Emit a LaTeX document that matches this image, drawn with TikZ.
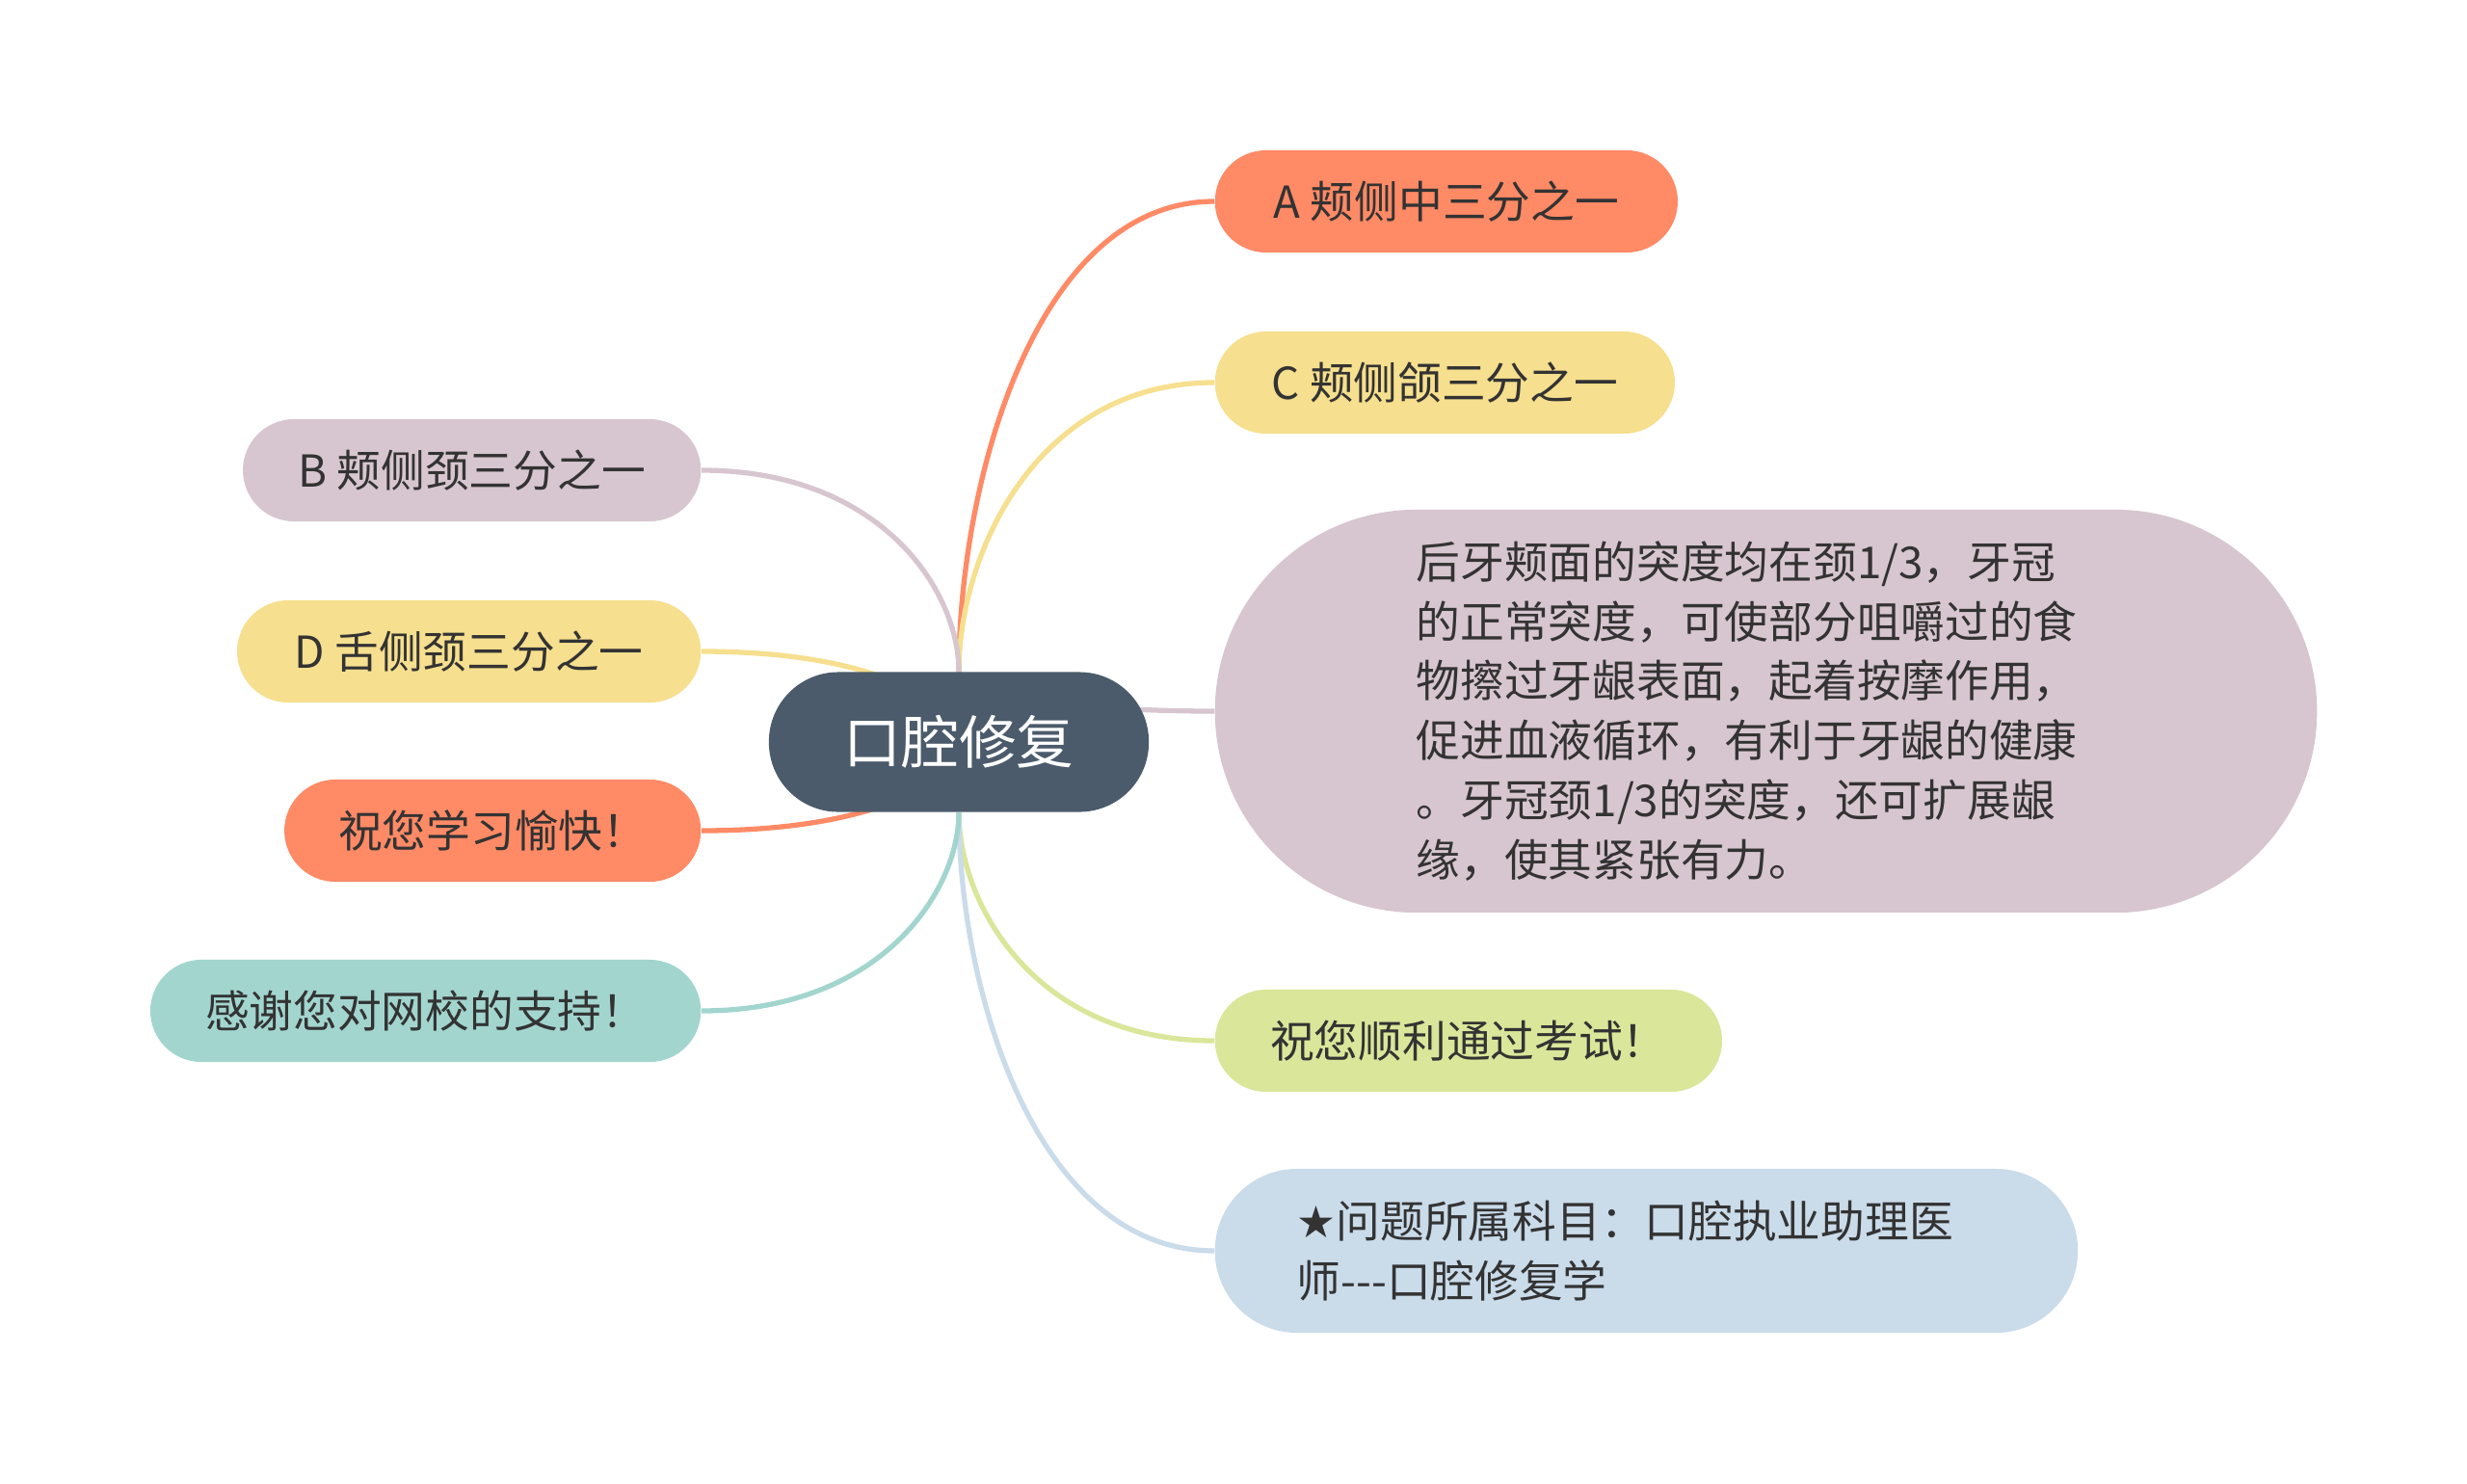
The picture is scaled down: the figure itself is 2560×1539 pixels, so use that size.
\documentclass[tikz,border=0pt]{standalone}
\usepackage{fontspec}
\newfontfamily\cjk{Noto Sans CJK SC}
\newfontfamily\symb{DejaVu Sans}
\usepackage{tikz}
\usetikzlibrary{positioning,backgrounds}

\definecolor{rootbg}{HTML}{4B5B6B}
\definecolor{coral}{HTML}{FF8A66}
\definecolor{sand}{HTML}{F6DF8E}
\definecolor{mauve}{HTML}{D7C6CF}
\definecolor{mint}{HTML}{A3D5CF}
\definecolor{lime}{HTML}{DAE69A}
\definecolor{sky}{HTML}{CADBEA}
\definecolor{ink}{HTML}{333333}

\tikzset{
  root/.style={fill=rootbg, text=white, rounded corners=0.72cm,
    minimum width=3.94cm, minimum height=1.45cm,
    font=\cjk\fontsize{17}{20}\selectfont},
  topic/.style={rounded corners=0.53cm, minimum height=1.06cm,
    inner xsep=0.5cm, text=ink, font=\cjk\fontsize{13}{17.6}\selectfont},
  link/.style={line width=1.5pt},
}

\begin{document}
\begin{tikzpicture}[x=0.01cm, y=-0.01cm]
\useasboundingbox (0,0) rectangle (2560,1539);

% centre
\node[root] (root) at (995,770) {口腔修复};

% right side
\node[topic, fill=coral, anchor=west, minimum width=4.8cm] (optA) at (1260,209) {A 颊侧中三分之一};
\node[topic, fill=sand, anchor=west, minimum width=4.77cm] (optC) at (1260,397) {C 颊侧颌三分之一};
\node[topic, fill=mauve, anchor=west, inner xsep=2.09cm, text width=7.25cm,
  minimum height=4.18cm, rounded corners=2.09cm, align=left] (note) at (1260,738)
  {后牙颊面的突度均在颈1/3，牙冠\\的正常突度，可使部分咀嚼过的食\\物擦过牙龈表面，起着按摩作用，\\促进血液循环，有利于牙龈的健康\\。牙冠颈1/3的突度，还可扩展龈\\缘，使其紧张有力。};
\node[topic, fill=lime, anchor=west, minimum width=5.26cm] (pass) at (1260,1080) {祝您顺利通过考试！};
\node[topic, fill=sky, anchor=west, inner xsep=0.85cm, text width=7.25cm,
  minimum height=1.7cm, rounded corners=0.85cm, align=left] (subj) at (1260,1298)
  {{\symb ★}问题所属科目：口腔执业助理医\\师-\kern0pt-\kern0pt-口腔修复学};

% left side
\node[topic, fill=mauve, anchor=east, minimum width=4.75cm] (optB) at (728,488) {B 颊侧颈三分之一};
\node[topic, fill=sand, anchor=east, minimum width=4.81cm] (optD) at (728,676) {D 舌侧颈三分之一};
\node[topic, fill=coral, anchor=east, minimum width=4.32cm] (wish) at (728,862) {祝您学习愉快！};
\node[topic, fill=mint, anchor=east, minimum width=5.71cm] (thanks) at (728,1049) {感谢您对网校的支持！};

\begin{scope}[on background layer]
\draw[link, coral] (root.north) .. controls +(0,-195) and +(-186,0) .. (optA.west);
\draw[link, sand] (root.north) .. controls +(0,-120) and +(-186,0) .. (optC.west);
\draw[link, mauve] (root.north) .. controls +(0,16) and +(-186,0) .. (note.west);
\draw[link, lime] (root.south) .. controls +(0,95) and +(-186,0) .. (pass.west);
\draw[link, sky] (root.south) .. controls +(0,182) and +(-186,0) .. (subj.west);
\draw[link, mauve] (root.north) .. controls +(0,-84) and +(186,0) .. (optB.east);
\draw[link, sand] (root.center) .. controls +(0,-38) and +(186,0) .. (optD.east);
\draw[link, coral] (root.center) .. controls +(0,38) and +(186,0) .. (wish.east);
\draw[link, mint] (root.south) .. controls +(0,82) and +(186,0) .. (thanks.east);
\end{scope}
\end{tikzpicture}
\end{document}
